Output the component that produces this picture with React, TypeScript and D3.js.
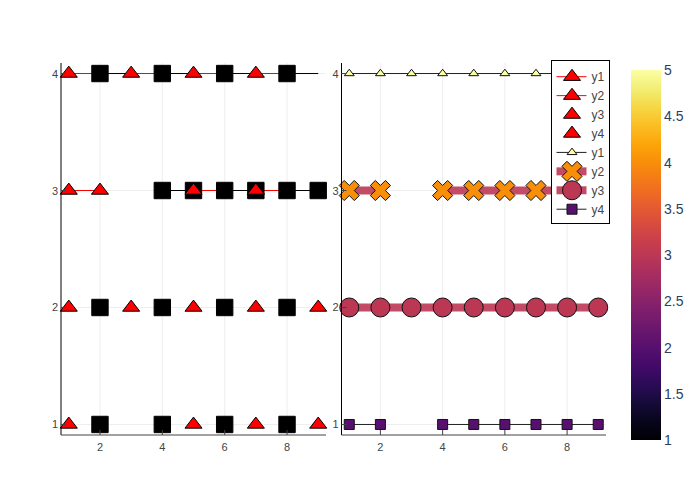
import React from "react";
import * as d3 from "d3";

// ---------- data ----------
const xs = [1, 2, 3, 4, 5, 6, 7, 8, 9];

// left subplot: y values per series (null = missing)
const leftY1 = [4, 4, 4, 4, 4, 4, 4, 4, 4];
const leftY2 = [3, 3, null, 3, 3, 3, 3, 3, 3];
const leftY3 = [2, 2, 2, 2, 2, 2, 2, 2, 2];
const leftY4 = [1, 1, null, 1, 1, 1, 1, 1, 1];
// marker kinds per point: t = triangle, s = square, st = square + triangle, "" = none
const leftM1 = ["t", "s", "t", "s", "t", "s", "t", "s", ""];
const leftM2 = ["t", "t", "", "s", "st", "s", "st", "s", "s"];
const leftM3 = ["t", "s", "t", "s", "t", "s", "t", "s", "t"];
const leftM4 = ["t", "s", "", "s", "t", "s", "t", "s", "t"];
// per-point colour cycle (line segment takes its starting point's colour)
const pointColors = ["red", "black", "red", "black", "red", "black", "red", "black", "red"];

// right subplot
const rightY1 = [4, 4, 4, 4, 4, 4, 4, 4, 4];
const rightY2 = [3, 3, null, 3, 3, 3, 3, 3, 3];
const rightY3 = [2, 2, 2, 2, 2, 2, 2, 2, 2];
const rightY4 = [1, 1, null, 1, 1, 1, 1, 1, 1];
const rightMarkerZ = [5, 4, 3, 2];
const rightLineZ = [null, 3, 3, null];

const labels = ["y1", "y2", "y3", "y4"];
const xTicks = [2, 4, 6, 8];
const yTicks = [1, 2, 3, 4];
const cbTicks = [1, 1.5, 2, 2.5, 3, 3.5, 4, 4.5, 5];

// ---------- layout ----------
const W = 700, H = 500;
const plotTop = 63, plotBottom = 435;
const leftX0 = 61, leftX1 = 326;
const rightX0 = 341.5, rightX1 = 606;
const font = "'Liberation Sans', Arial, sans-serif";

const yScale = d3.scaleLinear().domain([0.91, 4.09]).range([plotBottom, plotTop]);
const xLeft = d3.scaleLinear().domain([0.75, 9.25]).range([leftX0, leftX1]);
const xRight = d3.scaleLinear().domain([0.75, 9.25]).range([rightX0, rightX1]);
const zColor = (z: number) => d3.interpolateInferno((z - 1) / 4);

// ---------- marker shapes (plotly-like) ----------
function triPath(r: number) {
  const rt = (r * 2) / Math.sqrt(3);
  return `M${-rt},${r / 2}H${rt}L0,${-r}Z`;
}
function sqPath(r: number) {
  return `M${r},${r}H${-r}V${-r}H${r}Z`;
}
function xPath(r: number) {
  const rx = (r * 0.8) / Math.sqrt(2);
  const ne = `l${rx},${rx}`, se = `l${rx},${-rx}`, sw = `l${-rx},${-rx}`, nw = `l${-rx},${rx}`;
  return `M0,${rx}` + ne + se + sw + se + sw + nw + sw + nw + ne + nw + ne + "Z";
}
function circPath(r: number) {
  return `M${r},0A${r},${r} 0 1,1 0,${-r}A${r},${r} 0 0,1 ${r},0Z`;
}

const TRI_R = 7.4;
const SQ_R = 8.2;

function Axes({ xs: sx }: { xs: d3.ScaleLinear<number, number> }) {
  const [r0, r1] = sx.range();
  return (
    <g>
      {xTicks.map((t) => (
        <line key={"gx" + t} x1={sx(t)} x2={sx(t)} y1={plotTop} y2={plotBottom} stroke="#eeeeee" strokeWidth={1} />
      ))}
      {yTicks.map((t) => (
        <line key={"gy" + t} x1={r0} x2={r1} y1={yScale(t)} y2={yScale(t)} stroke="#eeeeee" strokeWidth={1} />
      ))}
    </g>
  );
}

function AxesFront({ xs: sx }: { xs: d3.ScaleLinear<number, number> }) {
  const [r0, r1] = sx.range();
  return (
    <g fontFamily={font} fontSize={11} fill="#444">
      <line x1={r0} x2={r0} y1={plotTop} y2={plotBottom} stroke="#000" strokeWidth={1} />
      <line x1={r0} x2={r1} y1={plotBottom} y2={plotBottom} stroke="#444" strokeWidth={1} />
      {xTicks.map((t) => (
        <g key={"tx" + t}>
          <line x1={sx(t)} x2={sx(t)} y1={plotBottom} y2={plotBottom - 5} stroke="#444" />
          <text x={sx(t)} y={plotBottom + 16} textAnchor="middle">{t}</text>
        </g>
      ))}
      {yTicks.map((t) => (
        <g key={"ty" + t}>
          <line x1={r0} x2={r0 + 5} y1={yScale(t)} y2={yScale(t)} stroke="#444" />
          <text x={r0 - 3} y={yScale(t) + 4} textAnchor="end">{t}</text>
        </g>
      ))}
    </g>
  );
}

function segments(vals: (number | null)[]) {
  const segs: { i: number; j: number }[] = [];
  for (let i = 0; i < vals.length - 1; i++) {
    if (vals[i] != null && vals[i + 1] != null) segs.push({ i, j: i + 1 });
  }
  return segs;
}

function LeftSeries({ vals, marks, withLine }: { vals: (number | null)[]; marks: string[]; withLine: boolean }) {
  return (
    <g>
      {withLine &&
        segments(vals).map(({ i, j }) => (
          <line key={"l" + i} x1={xLeft(xs[i])} x2={xLeft(xs[j])} y1={yScale(vals[i] as number)} y2={yScale(vals[j] as number)}
            stroke={pointColors[i]} strokeWidth={1} />
        ))}
      {vals.map((v, i) => {
        if (v == null || !marks[i]) return null;
        const tx = `translate(${xLeft(xs[i])},${yScale(v)})`;
        const m = marks[i];
        return (
          <g key={"m" + i} transform={tx}>
            {m.includes("s") && <path d={sqPath(SQ_R)} fill="#000" stroke="#000" strokeWidth={1} />}
            {m.includes("t") && <path d={triPath(TRI_R)} fill="#ff0000" stroke="#000" strokeWidth={1} />}
          </g>
        );
      })}
    </g>
  );
}

type RSpec = { vals: (number | null)[]; path: string; markerZ: number; lineZ: number | null };

const rightSpecs: RSpec[] = [
  { vals: rightY1, path: triPath(4.3), markerZ: rightMarkerZ[0], lineZ: rightLineZ[0] },
  { vals: rightY2, path: xPath(8.9), markerZ: rightMarkerZ[1], lineZ: rightLineZ[1] },
  { vals: rightY3, path: circPath(9.5), markerZ: rightMarkerZ[2], lineZ: rightLineZ[2] },
  { vals: rightY4, path: sqPath(5), markerZ: rightMarkerZ[3], lineZ: rightLineZ[3] },
];

function RightSeries({ spec }: { spec: RSpec }) {
  const thick = spec.lineZ != null;
  const lineGen = d3
    .line<number | null>()
    .defined((d) => d != null)
    .x((_, i) => xRight(xs[i]))
    .y((d) => yScale(d as number));
  return (
    <g>
      <path d={lineGen(spec.vals) || ""} fill="none"
        stroke={thick ? zColor(spec.lineZ as number) : "#222"}
        strokeOpacity={thick ? 0.9 : 1}
        strokeWidth={thick ? 8 : 1} />
      {spec.vals.map((v, i) =>
        v == null ? null : (
          <path key={i} d={spec.path} transform={`translate(${xRight(xs[i])},${yScale(v)})`}
            fill={zColor(spec.markerZ)} stroke="#111" strokeWidth={1} />
        )
      )}
    </g>
  );
}

function Legend() {
  const x0 = 551.5, y0 = 60.5, w = 58, h = 163;
  const firstY = 76.7, step = 18.93;
  const lx0 = 556.5, lx1 = 586.5, sx = 572;
  const entries: React.ReactNode[] = [];
  labels.forEach((lab, i) => {
    const y = firstY + i * step;
    entries.push(
      <g key={"L" + i}>
        {i < 2 && <line x1={lx0} x2={lx1} y1={y} y2={y} stroke="red" strokeWidth={1} />}
        <path d={triPath(TRI_R)} transform={`translate(${sx},${y})`} fill="#ff0000" stroke="#000" />
        <text x={591.5} y={y + 4.5} fontSize={12} fill="#444" fontFamily={font}>{lab}</text>
      </g>
    );
  });
  rightSpecs.forEach((s, k) => {
    const y = firstY + (k + 4) * step;
    const thick = s.lineZ != null;
    entries.push(
      <g key={"R" + k}>
        <line x1={lx0} x2={lx1} y1={y} y2={y} stroke={thick ? zColor(s.lineZ as number) : "#222"}
          strokeOpacity={thick ? 0.9 : 1} strokeWidth={thick ? 8 : 1} />
        <path d={s.path} transform={`translate(${sx},${y})`} fill={zColor(s.markerZ)} stroke="#111" />
        <text x={591.5} y={y + 4.5} fontSize={12} fill="#444" fontFamily={font}>{labels[k]}</text>
      </g>
    );
  });
  return (
    <g>
      <rect x={x0} y={y0} width={w} height={h} fill="#fff" stroke="#000" strokeWidth={1} />
      {entries}
    </g>
  );
}

function Colorbar() {
  const cx0 = 631, cw = 30, ctop = 70, cbot = 440;
  const cScale = d3.scaleLinear().domain([1, 5]).range([cbot, ctop]);
  const stops = d3.range(0, 1.0001, 0.05);
  return (
    <g>
      <defs>
        <linearGradient id="cbgrad" x1="0" y1="1" x2="0" y2="0">
          {stops.map((t) => (
            <stop key={t} offset={t} stopColor={d3.interpolateInferno(t)} />
          ))}
        </linearGradient>
      </defs>
      <rect x={cx0} y={ctop} width={cw} height={cbot - ctop} fill="url(#cbgrad)" />
      {cbTicks.map((t) => (
        <text key={t} x={664} y={cScale(t) + 5} fontSize={14} fill="#2a3f5f" fontFamily={font}>{t}</text>
      ))}
    </g>
  );
}

export default function App() {
  return (
    <svg width={W} height={H} style={{ position: "absolute", left: 0, top: 0, background: "#fff" }}>
      <rect width={W} height={H} fill="#fff" />
      <Axes xs={xLeft} />
      <Axes xs={xRight} />
      <LeftSeries vals={leftY1} marks={leftM1} withLine={true} />
      <LeftSeries vals={leftY2} marks={leftM2} withLine={true} />
      <LeftSeries vals={leftY3} marks={leftM3} withLine={false} />
      <LeftSeries vals={leftY4} marks={leftM4} withLine={false} />
      {rightSpecs.map((s, k) => (
        <RightSeries key={k} spec={s} />
      ))}
      <AxesFront xs={xLeft} />
      <AxesFront xs={xRight} />
      <Legend />
      <Colorbar />
    </svg>
  );
}
